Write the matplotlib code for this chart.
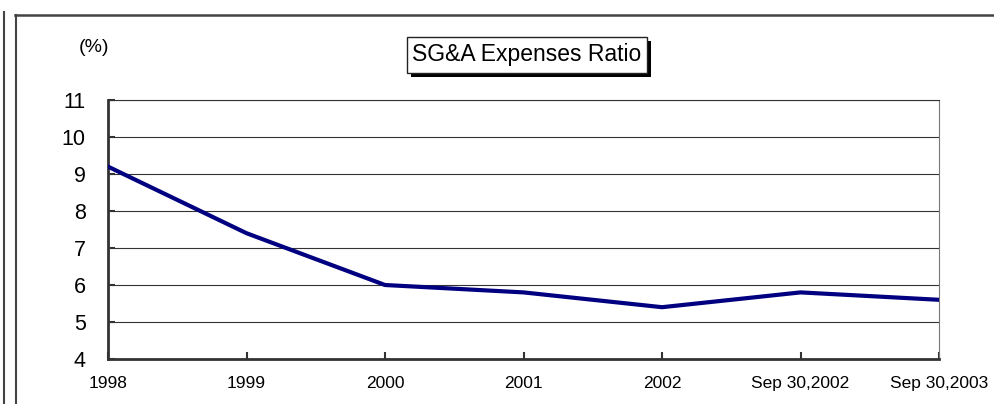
import matplotlib.pyplot as plt
from matplotlib.lines import Line2D
from matplotlib.patches import Rectangle

# --- datos ---
periodos = ['1998', '1999', '2000', '2001', '2002', 'Sep 30,2002', 'Sep 30,2003']
ratio_sga = [9.2, 7.4, 6.0, 5.8, 5.4, 5.8, 5.6]
y_ticks = [4, 5, 6, 7, 8, 9, 10, 11]

plt.rcParams['font.family'] = ['Liberation Sans', 'DejaVu Sans']

W, H = 994, 404
fig = plt.figure(figsize=(W / 100, H / 100), dpi=100)

# marco exterior (coordenadas en pixeles -> fraccion de figura)
def px(x, y):
    return x / W, 1 - y / H

x0, y0 = px(4, 12)
x1, y1 = px(4, 404)
fig.add_artist(Line2D([x0, x1], [y0, y1], color='#444444', lw=1.5))
x0, y0 = px(16, 15)
x1, y1 = px(16, 404)
fig.add_artist(Line2D([x0, x1], [y0, y1], color='#444444', lw=1.5))
x0, y0 = px(15, 15)
x1, y1 = px(994, 15)
fig.add_artist(Line2D([x0, x1], [y0, y1], color='#444444', lw=1.8))

# area de la grafica
left, bottom = px(108, 359)
ax = fig.add_axes([left, bottom, 831 / W, 259 / H])

x = list(range(len(periodos)))
ax.plot(x, ratio_sga, color='#000080', lw=3, solid_joinstyle='round', zorder=3)

ax.set_xlim(0, len(periodos) - 1)
ax.set_ylim(4, 11)
ax.set_yticks(y_ticks)
ax.set_xticks(x)
ax.set_xticklabels(periodos, fontsize=12.5)
ax.set_yticklabels([str(v) for v in y_ticks], fontsize=15.5)

ax.yaxis.grid(True, color='#333333', lw=0.8)
ax.set_axisbelow(True)
ax.tick_params(axis='y', direction='in', length=5, width=1.5, color='#333333', pad=16)
ax.tick_params(axis='x', direction='in', length=5, width=1.5, color='#333333', pad=12)

for s in ['left', 'bottom']:
    ax.spines[s].set_color('#333333')
    ax.spines[s].set_linewidth(2)
ax.spines['right'].set_color('#777777')
ax.spines['right'].set_linewidth(0.8)
ax.spines['top'].set_color('#333333')
ax.spines['top'].set_linewidth(0.8)

# titulo con sombra
bx0, by0 = px(407, 73)
sombra = Rectangle((bx0 + 4 / W, by0 - 4 / H), 240 / W, 36 / H, transform=fig.transFigure,
                   facecolor='black', edgecolor='black', lw=0)
fig.add_artist(sombra)
caja = Rectangle((bx0, by0), 240 / W, 36 / H, transform=fig.transFigure,
                 facecolor='white', edgecolor='#222222', lw=1)
fig.add_artist(caja)
tx, ty = px(527, 55)
fig.text(tx, ty, 'SG&A Expenses Ratio', fontsize=16.5, ha='center', va='center')

tx, ty = px(94, 48)
fig.text(tx, ty, '(%)', fontsize=14, ha='center', va='center')

fig.savefig('out.png', dpi=100)
